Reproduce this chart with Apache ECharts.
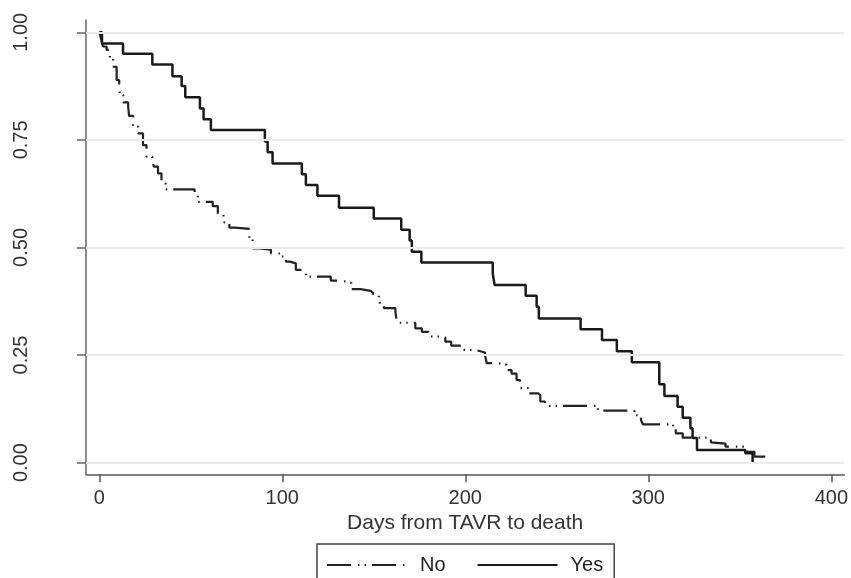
<!DOCTYPE html>
<html><head><meta charset="utf-8">
<script src="https://cdn.jsdelivr.net/npm/echarts@6/dist/echarts.min.js"></script>
<style>html,body{margin:0;padding:0;background:#fff}#c{width:851px;height:578px}</style>
</head><body><div id="c"></div><script>
const xTicks = [0, 100, 200, 300, 400];
const yTicks = [0, 0.25, 0.5, 0.75, 1];
const seriesNames = ['No', 'Yes'];
const xTitle = 'Days from TAVR to death';

const noDays = [0, 1, 2, 4, 5.8, 7.6, 9.5, 10.9, 11.3, 13.1, 15.8, 16.3, 18.5, 21.2, 23.9, 25.8, 29, 29.8, 32.1, 34, 36.3,
  52.1, 53.9, 62, 64.8, 67.9, 68.4, 71.1, 73.9, 82, 83.8, 87.5, 93.8, 99.3, 102, 104.2, 107.4, 111, 112.9,
  126.5, 130, 136.4, 137.9, 142.8, 148.2, 149.5, 152.8, 153.7, 155.5, 161.8, 162.7, 172.7, 176.3, 180, 185,
  189.1, 192.3, 198.1, 201.7, 207.2, 210.8, 211.7, 218, 222.6, 225.3, 228, 229.9, 234.4, 239.8, 241, 243.5,
  272.5, 292.4, 296, 297, 313.5, 315, 318.8, 334.2, 335, 342.2, 352.3, 354.1, 358, 365];
const noSurv = [1, 0.985, 0.967, 0.959, 0.940, 0.920, 0.889, 0.870, 0.854, 0.837, 0.827, 0.806, 0.781, 0.765, 0.738, 0.711, 0.703, 0.688, 0.672, 0.649, 0.635,
  0.628, 0.606, 0.596, 0.576, 0.568, 0.558, 0.546, 0.543, 0.521, 0.498, 0.495, 0.486, 0.479, 0.467, 0.463, 0.448, 0.444, 0.432,
  0.423, 0.420, 0.417, 0.403, 0.399, 0.395, 0.388, 0.378, 0.366, 0.359, 0.351, 0.325, 0.312, 0.304, 0.293, 0.291,
  0.281, 0.272, 0.262, 0.260, 0.256, 0.250, 0.231, 0.227, 0.215, 0.207, 0.192, 0.173, 0.161, 0.157, 0.142, 0.132,
  0.121, 0.110, 0.099, 0.089, 0.080, 0.068, 0.058, 0.047, 0.044, 0.037, 0.033, 0.025, 0.014, 0.014];

const yesDays = [0, 1.5, 13, 29, 40, 45, 47, 55, 57, 61, 90.5, 92, 94.7, 110.7, 112.9, 119.2, 131, 150, 165, 169.6, 170.8, 176,
  215, 216, 233, 239, 240.2, 263, 274.7, 282.8, 291, 306, 308.8, 316, 318.8, 323, 324.2, 326.6, 353, 357];
const yesSurv = [1, 0.974, 0.950, 0.925, 0.898, 0.875, 0.849, 0.823, 0.798, 0.773, 0.746, 0.721, 0.695, 0.670, 0.645, 0.620, 0.592, 0.567, 0.541, 0.516, 0.490, 0.465,
  0.440, 0.413, 0.388, 0.362, 0.335, 0.310, 0.285, 0.259, 0.233, 0.182, 0.155, 0.130, 0.104, 0.080, 0.057, 0.029, 0.022, 0];

const font = 'Liberation Sans, Arial, Helvetica, sans-serif';
const chart = echarts.init(document.getElementById('c'), null, {renderer: 'canvas'});
const zip = (a, b) => a.map((v, i) => [v, b[i]]);

chart.setOption({
  animation: false,
  backgroundColor: '#fff',
  grid: {left: 86, right: 3.7, top: 20, bottom: 103.7},
  xAxis: {
    type: 'value', min: -7.24, max: 407.1,
    axisLine: {show: true, onZero: false, lineStyle: {color: '#555', width: 1.5}},
    axisTick: {show: true, customValues: xTicks, length: 8, lineStyle: {color: '#555', width: 1.5}},
    axisLabel: {customValues: xTicks, fontSize: 20, color: '#333', margin: 14, fontFamily: font},
    splitLine: {show: false},
    name: xTitle, nameLocation: 'middle', nameGap: 33,
    nameTextStyle: {fontSize: 21, color: '#333', fontFamily: font}
  },
  yAxis: {
    type: 'value', min: -0.0272, max: 1.0286,
    axisLine: {show: true, onZero: false, lineStyle: {color: '#666', width: 1.5}},
    axisTick: {show: true, customValues: yTicks, length: 9, lineStyle: {color: '#666', width: 1.5}},
    axisLabel: {customValues: yTicks, rotate: 90, fontSize: 20, color: '#333', margin: 55, fontFamily: font,
      formatter: v => Number(v).toFixed(2)},
    splitLine: {show: false}
  },
  legend: {
    data: seriesNames, left: 317, top: 544, orient: 'horizontal',
    itemWidth: 80, itemHeight: 20, itemGap: 31,
    padding: [11, 11, 40, 9],
    borderColor: '#444', borderWidth: 1.5, borderRadius: 0,
    itemStyle: {opacity: 0},
    textStyle: {fontSize: 20, color: '#222', fontFamily: font, padding: [0, 0, 0, 8]}
  },
  series: [
    {
      name: '_grid', type: 'line', data: [], z: 1, silent: true,
      markLine: {silent: true, symbol: ['none', 'none'], label: {show: false},
        lineStyle: {color: '#eaeaea', width: 2, type: 'solid'},
        data: yTicks.map(v => ({yAxis: v}))}
    },
    {
      name: seriesNames[0], type: 'line', step: 'end', data: zip(noDays, noSurv), z: 3,
      symbol: 'none', showSymbol: false, color: '#222',
      lineStyle: {color: '#222', width: 2.2, type: [24, 7, 1.5, 5, 1.5, 6]}
    },
    {
      name: seriesNames[1], type: 'line', step: 'end', data: zip(yesDays, yesSurv), z: 4,
      symbol: 'none', showSymbol: false, color: '#1a1a1a',
      lineStyle: {color: '#1a1a1a', width: 2.5, type: 'solid'}
    }
  ]
});
</script></body></html>
